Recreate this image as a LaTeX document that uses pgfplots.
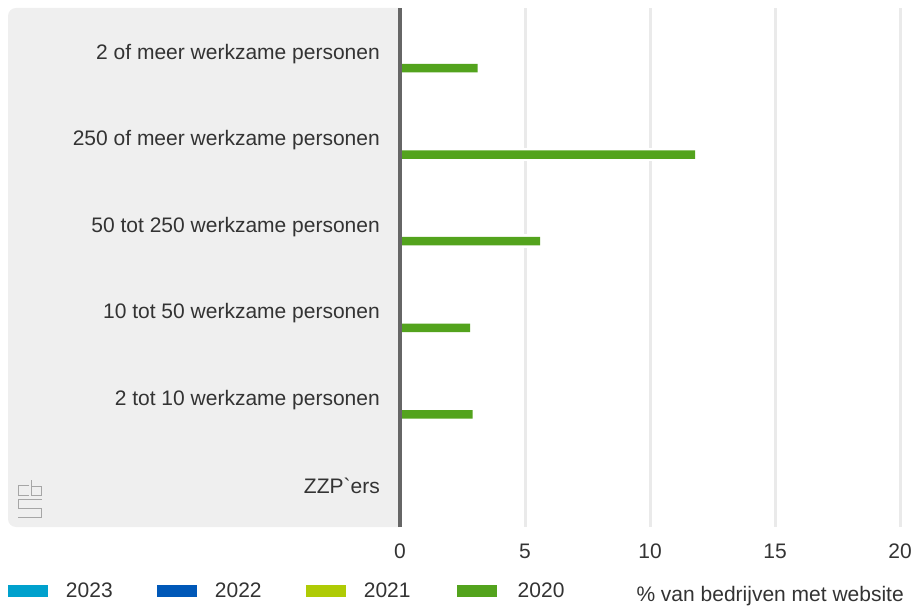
\documentclass[border=0pt]{standalone}
\usepackage{fontspec}
\setmainfont{Liberation Sans}
\usepackage{pgfplots}
\pgfplotsset{compat=1.18}
\definecolor{cA}{HTML}{00A1CD}
\definecolor{cB}{HTML}{0058B8}
\definecolor{cC}{HTML}{AFCB05}
\definecolor{cD}{HTML}{53A31D}
\definecolor{bgcol}{HTML}{EFEFEF}
\definecolor{gridcol}{HTML}{EAEAEA}
\definecolor{axcol}{HTML}{666666}
\definecolor{txt}{HTML}{333333}
\pgfplotsset{myleg/.style={legend image code/.code={\fill[##1, draw=none] (0pt,-6pt) rectangle (40pt,6pt);}}}
\begin{document}
\begin{tikzpicture}[x=1pt,y=1pt]
\useasboundingbox (0,0) rectangle (917,610);
% grey label panel
\fill[bgcol] (400,602) [rounded corners=8pt] -- (8,602) -- (8,83) [sharp corners] -- (400,83) -- cycle;
% cbs logo (approximation)
\begin{scope}[draw=gray!70, line width=0.8pt, double=bgcol, double distance=2pt]
\draw (29,125) -- (18.5,125) -- (18.5,114.5) -- (29,114.5);
\draw (31,129.5) -- (31,114.5) -- (41,114.5) -- (41,123.5) -- (31,123.5);
\draw (41.5,110.5) -- (18.5,110.5) -- (18.5,102) -- (41,102) -- (41,93) -- (18,93);
\end{scope}
\begin{axis}[
  at={(400pt,83pt)}, anchor=south west,
  scale only axis, width=500pt, height=519pt,
  clip=false,
  font=\fontsize{21}{25}\selectfont\color{txt},
  /pgf/number format/assume math mode=true,
  xmin=0, xmax=20, ymin=-0.5, ymax=5.5,
  xtick={0,5,10,15,20},
  ytick={0,1,2,3,4,5},
  yticklabels={ZZP\textasciigrave ers, 2 tot 10 werkzame personen, 10 tot 50 werkzame personen, 50 tot 250 werkzame personen, 250 of meer werkzame personen, 2 of meer werkzame personen},
  axis line style={draw=none},
  major tick length=0pt,
  xmajorgrids, ymajorgrids=false,
  grid style={color=gridcol, line width=3pt},
  yticklabel style={anchor=east, inner sep=0pt, xshift=-20pt, yshift=-2.5pt},
  xticklabel style={anchor=base, inner sep=0pt, yshift=-31.5pt},
  xlabel={\% van bedrijven met website},
  xlabel style={at={(axis description cs:1.008,-0.1335)}, anchor=east, inner sep=0pt},
  legend columns=4,
  legend style={at={(axis description cs:-0.784,-0.1233)}, anchor=west, draw=none, fill=none, inner sep=0pt, outer sep=0pt,
    nodes={inner sep=0pt},
    /tikz/every odd column/.append style={column sep=18pt},
    /tikz/every even column/.append style={column sep=44.2pt}},
  xbar, bar width=8.5pt,
]
\addlegendimage{fill=cA, myleg}\addlegendentry{2023}
\addlegendimage{fill=cB, myleg}\addlegendentry{2022}
\addlegendimage{fill=cC, myleg}\addlegendentry{2021}
\addplot[fill=cD, draw=none, bar shift=-17pt, myleg, preaction={draw=white, line width=5pt}] coordinates {
  (2.9,1) (2.8,2) (5.6,3) (11.8,4) (3.1,5)
};
\addlegendentry{2020}
\draw[axcol, line width=3.3pt] (axis cs:0,-0.5) -- (axis cs:0,5.5);
\end{axis}
\end{tikzpicture}
\end{document}
